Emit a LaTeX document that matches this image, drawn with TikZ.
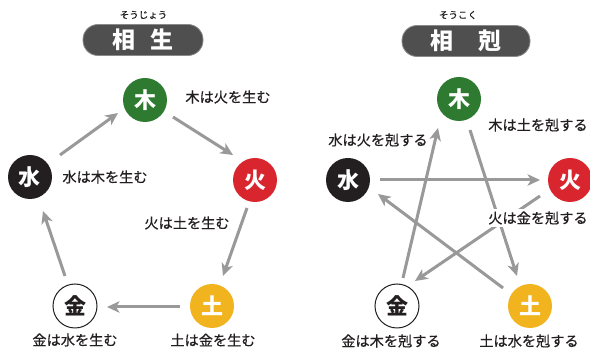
\documentclass[tikz,border=0pt]{standalone}
\usepackage{fontspec}
\newfontfamily\jp{Noto Sans CJK JP}
\newfontfamily\jpm[FakeBold=0.5]{Noto Sans CJK JP}
\usetikzlibrary{arrows.meta,calc}
\definecolor{wood}{HTML}{2E7A30}
\definecolor{fire}{HTML}{D9262E}
\definecolor{water}{HTML}{231F20}
\definecolor{earth}{HTML}{F2B41E}
\definecolor{arrowgray}{HTML}{999999}
\definecolor{pillgray}{HTML}{4F4F4F}
\definecolor{pilledge}{HTML}{8A8A8A}
\definecolor{ink}{HTML}{231F20}
\begin{document}
\begin{tikzpicture}[x=1pt,y=-1pt,
  elem/.style={circle,minimum size=44pt,inner sep=0pt,font=\jp\bfseries\fontsize{22}{22}\selectfont,text=white},
  lbl/.style={font=\jpm\fontsize{14.2}{16}\selectfont,text=ink,inner sep=1pt},
  arr/.style={draw=arrowgray,line width=3pt,-{Stealth[length=12.5pt,width=11.5pt,inset=3.5pt]}},
  titlebox/.style={fill=pillgray,draw=pilledge,line width=0.8pt,rounded corners=15pt,minimum height=31pt,inner sep=0pt,text=white,font=\jp\bfseries\fontsize{23}{23}\selectfont},
  ruby/.style={font=\jpm\fontsize{9.5}{9.5}\selectfont,text=ink,inner sep=0pt}]
\useasboundingbox[fill=white] (0,0) rectangle (590,352);
\clip (0,0) rectangle (590,352);

% ---------- titles ----------
\node[titlebox,minimum width=120pt] (t1) at (143,40) {相\hspace{16pt}生};
\node[ruby] (r1) at (143.5,15) {そうじょう};
\node[titlebox,minimum width=128pt] (t2) at (466,41) {相\hspace{26pt}剋};
\node[ruby] (r2) at (458,15) {そうこく};

% ---------- left: 相生 ----------
\node[elem,fill=wood]  (mokuL) at (145,100) {木};
\node[elem,fill=fire]  (kaL)   at (255,180) {火};
\node[elem,fill=water] (suiL)  at (30,177)  {水};
\node[elem,fill=white,draw=ink,line width=1pt,text=ink] (kinL) at (75,306) {金};
\node[elem,fill=earth] (doL)   at (212,306) {土};

\draw[arr] ($(suiL)+(30,-22)$) -- ($(mokuL)+(-27,13)$);
\draw[arr] ($(mokuL)+(28,17)$) -- ($(kaL)+(-22,-25)$);
\draw[arr] ($(kaL)+(-8,28)$) -- ($(doL)+(11,-30)$);
\draw[arr] ($(doL)+(-32,1)$) -- ($(kinL)+(32,1)$);
\draw[arr] ($(kinL)+(-10,-30)$) -- ($(suiL)+(13,34)$);

\node[lbl] (l1) at (228,97)  {木は火を生む};
\node[lbl] (l2) at (105,177) {水は木を生む};
\node[lbl] (l3) at (187,223) {火は土を生む};
\node[lbl] (l4) at (213,340) {土は金を生む};
\node[lbl] (l5) at (75,340)  {金は水を生む};

% ---------- right: 相剋 ----------
\node[elem,fill=wood]  (mokuR) at (459,99)  {木};
\node[elem,fill=fire]  (kaR)   at (570,180) {火};
\node[elem,fill=water] (suiR)  at (348,180) {水};
\node[elem,fill=white,draw=ink,line width=1pt,text=ink] (kinR) at (397,306) {金};
\node[elem,fill=earth] (doR)   at (530,306) {土};

\draw[arr] ($(mokuR)+(11,31)$) -- ($(doR)+(-13,-30)$);
\draw[arr] ($(doR)+(-27,-18)$) -- ($(suiR)+(30,14)$);
\draw[arr] ($(suiR)+(32,0)$) -- ($(kaR)+(-30,0)$);
\draw[arr] ($(kaR)+(-30,16)$) -- ($(kinR)+(18,-25)$);
\draw[arr] ($(kinR)+(6,-28)$) -- ($(mokuR)+(-21,29)$);

\node[lbl] (m1) at (378,140) {水は火を剋する};
\node[lbl] (m2) at (538,125) {木は土を剋する};
\node[lbl,fill=white,inner sep=2pt] (m3) at (538,218) {火は金を剋する};
\node[lbl] (m4) at (391,341) {金は木を剋する};
\node[lbl] (m5) at (529,341) {土は水を剋する};
\end{tikzpicture}
\end{document}
